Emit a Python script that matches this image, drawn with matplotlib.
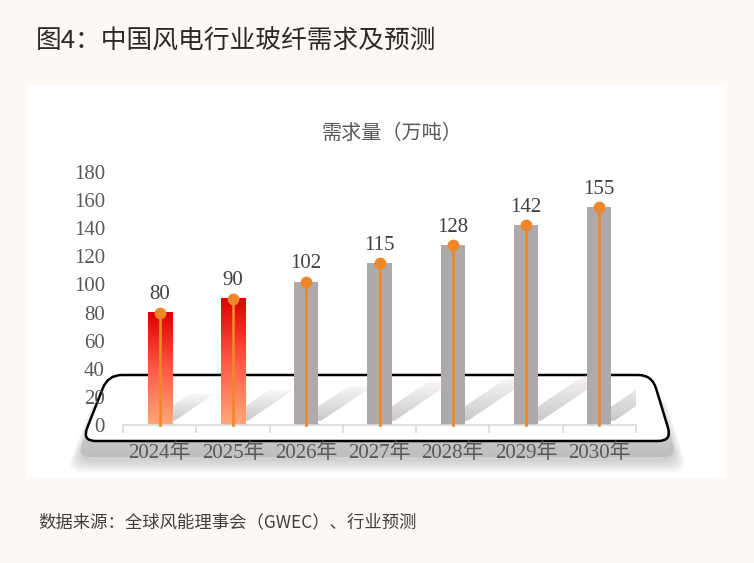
import numpy as np
import matplotlib.pyplot as plt
from matplotlib.path import Path
from matplotlib.patches import PathPatch, Rectangle, Polygon
from matplotlib.colors import LinearSegmentedColormap

years = ['2024年', '2025年', '2026年', '2027年', '2028年', '2029年', '2030年']
demand = [80, 90, 102, 115, 128, 142, 155]
highlight = [True, True, False, False, False, False, False]
y_ticks = [0, 20, 40, 60, 80, 100, 120, 140, 160, 180]

title = '图4：中国风电行业玻纤需求及预测'
chart_title = '需求量（万吨）'
source = '数据来源：全球风能理事会（GWEC）、行业预测'

CJK = ['Noto Sans CJK SC', 'DejaVu Sans']
SERIF = ['Liberation Serif', 'Noto Sans CJK SC']
plt.rcParams['font.family'] = CJK

W, H = 754, 563
fig = plt.figure(figsize=(W / 100, H / 100), dpi=100)
fig.patch.set_facecolor('#FCF8F3')


def rounded_poly(pts, r):
    verts, codes = [], []
    n = len(pts)
    for k in range(n):
        p0 = np.array(pts[k - 1], float)
        p1 = np.array(pts[k], float)
        p2 = np.array(pts[(k + 1) % n], float)
        a = p1 + (p0 - p1) / np.linalg.norm(p0 - p1) * r
        b = p1 + (p2 - p1) / np.linalg.norm(p2 - p1) * r
        verts.append(a)
        codes.append(Path.MOVETO if k == 0 else Path.LINETO)
        verts += [p1, b]
        codes += [Path.CURVE3, Path.CURVE3]
    verts.append(verts[0])
    codes.append(Path.CLOSEPOLY)
    return Path(verts, codes)


# background layer in pixel coords (panel + platform decoration)
bg = fig.add_axes([0, 0, 1, 1], zorder=0)
bg.set_xlim(0, W)
bg.set_ylim(H, 0)
bg.axis('off')
bg.add_patch(Rectangle((27, 85), 700, 393, facecolor='white', edgecolor='none'))

slab_pts = [(106, 382), (654, 382), (677, 457), (77, 457)]
for k in range(8):
    e = k * 1.6
    pts = [(x + (-e if x < 380 else e), y + 4 + e) for x, y in slab_pts]
    bg.add_patch(PathPatch(rounded_poly(pts, 16), facecolor='#808080',
                           edgecolor='none', alpha=0.05))
slab = PathPatch(rounded_poly(slab_pts, 14), facecolor='#C8C8C8', edgecolor='none')
bg.add_patch(slab)
grad = np.linspace(0, 1, 100).reshape(-1, 1)
bg.imshow(grad, extent=(70, 685, 460, 380), cmap=LinearSegmentedColormap.from_list(
    'slab', ['#E4E4E4', '#BDBDBD']), aspect='auto', clip_path=slab, zorder=2)
face = PathPatch(rounded_poly([(108, 375), (652, 375), (672, 441), (82, 441)], 14),
                 facecolor='white', edgecolor='black', linewidth=1.8, zorder=3)
bg.add_patch(face)
bg.set_xlim(0, W)
bg.set_ylim(H, 0)

fig.text(36 / W, 1 - 42 / H, title, fontsize=18.5, color='#2A2A2A',
         ha='left', va='center')
fig.text(38 / W, 1 - 522 / H, source, fontsize=12.5, color='#404040',
         ha='left', va='center')
fig.text(392 / W, 1 - 133 / H, chart_title, fontsize=14.5, color='#595959',
         ha='center', va='center')

# main chart axes
ax = fig.add_axes([123 / W, 1 - 425 / H, 513 / W, 253 / H], zorder=1)
ax.patch.set_alpha(0)
ax.set_xlim(-0.5, len(years) - 0.5)
ax.set_ylim(0, 180)

x = np.arange(len(years))
bw = 0.33
red_cmap = LinearSegmentedColormap.from_list('red', ['#FFA878', '#FF5A45', '#DD0000'])

# soft shadow image: grey with alpha fading upward
shade = np.zeros((100, 1, 4))
shade[..., :3] = 0.78
shade[:, 0, 3] = np.linspace(0.95, 0.15, 100)

for i, v in enumerate(demand):
    dx, dy = 0.0068 * v, min(0.24 * v, 33)
    dx = dx * min(1, 33 / (0.24 * v))
    sh = Polygon([(i - bw / 2 + 0.04, 3), (i + bw / 2 + 0.04, 3),
                  (i + bw / 2 + 0.04 + dx, 3 + dy), (i - bw / 2 + 0.04 + dx, 3 + dy)],
                 closed=True, facecolor='none', edgecolor='none')
    ax.add_patch(sh)
    ax.imshow(shade, extent=(i - 0.3, i + 1.2, 3, 3 + dy), origin='lower',
              aspect='auto', clip_path=sh, zorder=1, interpolation='bilinear')

    bar = ax.bar(i, v, width=bw, color='#AEAAA9' if not highlight[i] else 'none',
                 zorder=2)[0]
    if highlight[i]:
        g = np.linspace(0, 1, 200).reshape(-1, 1)
        ax.imshow(g, extent=(i - bw / 2, i + bw / 2, 0, v), origin='lower',
                  cmap=red_cmap, aspect='auto', clip_path=bar, zorder=2)

    ax.plot([i, i], [0, v], color='#F0862A', linewidth=1.9, zorder=3, clip_on=False)
    ax.plot(i, v, 'o', color='#F0862A', markersize=7.5, zorder=4, clip_on=False)
    ax.annotate(str(v), (i, v), xytext=(0, 6), textcoords='offset points',
                ha='center', va='bottom', fontsize=15, color='#404040',
                family=SERIF)

ax.set_xlim(-0.5, len(years) - 0.5)
ax.set_ylim(0, 180)

for sp in ['top', 'right', 'left']:
    ax.spines[sp].set_visible(False)
ax.spines['bottom'].set_color('#D9D9D9')
ax.spines['bottom'].set_linewidth(1.2)

ax.set_xticks(x)
ax.set_xticklabels(years, family=SERIF, fontsize=15, color='#595959')
ax.set_xticks(np.arange(len(years) + 1) - 0.5, minor=True)
ax.tick_params(axis='x', which='major', length=0, pad=13)
ax.tick_params(axis='x', which='minor', length=6, width=1.2, color='#D9D9D9')

ax.set_yticks(y_ticks)
ax.set_yticklabels([str(t) for t in y_ticks], family=SERIF, fontsize=15, color='#595959')
ax.tick_params(axis='y', length=0, pad=13)

fig.savefig('out.png', dpi=100, facecolor=fig.get_facecolor())
